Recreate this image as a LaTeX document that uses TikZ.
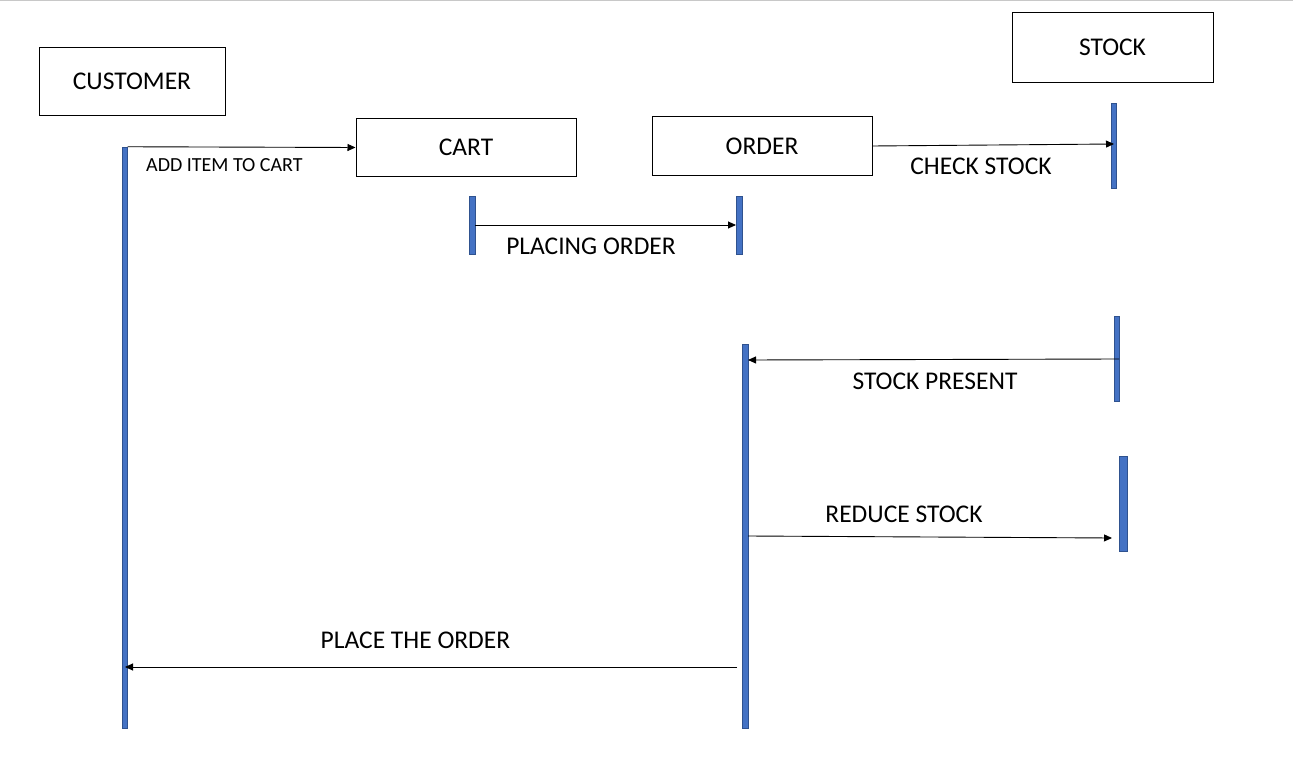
\documentclass[tikz,border=0pt]{standalone}
\usepackage{fontspec}
\setmainfont{Carlito}
\usetikzlibrary{arrows.meta,calc}
\definecolor{barblue}{HTML}{4472C4}
\definecolor{baredge}{HTML}{2F528F}
\definecolor{topgray}{HTML}{C8C8C8}
\tikzset{
  actor/.style={draw=black, line width=1pt, rectangle, inner sep=0pt, font=\fontsize{25.5}{30}\selectfont},
  lifebar/.style={draw=baredge, line width=0.5pt, fill=barblue, rectangle, inner sep=0pt, minimum width=5.5pt},
  msg/.style={draw=black, line width=0.9pt, -{Triangle[length=8pt,width=7pt]}},
  lbl/.style={inner sep=0pt, font=\fontsize{25.5}{30}\selectfont},
  smalllbl/.style={inner sep=0pt, font=\fontsize{20}{24}\selectfont}
}
\begin{document}
\begin{tikzpicture}[x=1pt,y=-1pt]
\useasboundingbox (0,0) rectangle (1293,762);
\draw[topgray, line width=1.5pt] (0,0.75) -- (1293,0.75);

% actor boxes
\node[actor, minimum width=186pt, minimum height=68pt] (customer) at (132,81.5) {CUSTOMER};
\node[actor, minimum width=220pt, minimum height=58pt] (cart) at (466,147.5) {CART};
\node[actor, minimum width=220pt, minimum height=59pt] (order) at (762,146) {ORDER};
\node[actor, minimum width=201pt, minimum height=70pt] (stock) at (1112.5,47.5) {STOCK};

% activation bars
\node[lifebar, minimum height=581pt] (custbar) at (124.5,437.5) {};
\node[lifebar, minimum height=58pt] (cartbar) at (472,225) {};
\node[lifebar, minimum height=58pt] (ordbarA) at (739,225) {};
\node[lifebar, minimum height=85pt] (stockbarA) at (1113.5,145.5) {};
\node[lifebar, minimum height=85pt] (stockbarB) at (1116.5,358.5) {};
\node[lifebar, minimum height=384pt] (ordbarB) at (745,536) {};
\node[lifebar, minimum width=8pt, minimum height=95pt] (stockbarC) at (1123,503.5) {};

% endpoints
\coordinate (p1s) at (custbar.north east);
\coordinate (p2s) at (cartbar.east);
\coordinate (p2e) at (ordbarA.west);
\coordinate (p3s) at (order.east);
\coordinate (p3e) at (1114,144);
\coordinate (p4s) at (1119,359);
\coordinate (p4e) at (748,360);
\coordinate (p5s) at (748,536);
\coordinate (p5e) at (1112,538);
\coordinate (p6s) at (737,667);
\coordinate (p6e) at (125,667);

% messages
\draw[msg] (p1s) -- (cart.west);
\draw[msg] (p2s) -- (p2e);
\draw[msg] (p3s) -- (p3e);
\draw[msg] (p4s) -- (p4e);
\draw[msg] (p5s) -- (p5e);
\draw[msg] (p6s) -- (p6e);

% labels
\node[smalllbl, anchor=west] (l1) at (146,165.5) {ADD ITEM TO CART};
\node[lbl] (l2) at (591,246.5) {PLACING ORDER};
\node[lbl] (l3) at (981,166.5) {CHECK STOCK};
\node[lbl] (l4) at (935,381.5) {STOCK PRESENT};
\node[lbl] (l5) at (904,514.5) {REDUCE STOCK};
\node[lbl] (l6) at (415.5,640.5) {PLACE THE ORDER};
\end{tikzpicture}
\end{document}
